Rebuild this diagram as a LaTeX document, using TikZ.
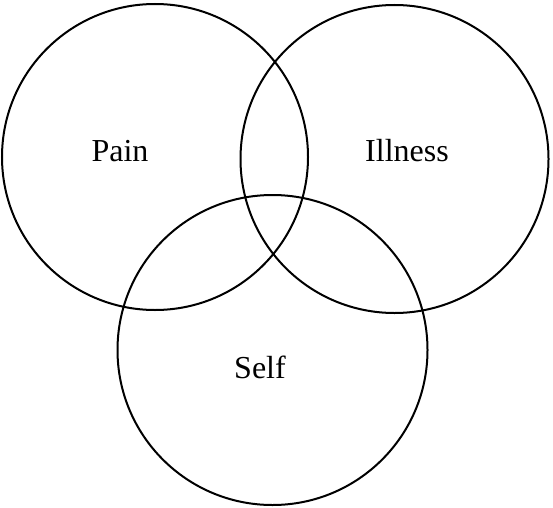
\documentclass[tikz,border=0pt]{standalone}
\usepackage{fontspec}
\setmainfont{Liberation Serif}
\begin{document}
\begin{tikzpicture}[x=1pt,y=1pt,
  ring/.style={draw=black,line width=2pt},
  lbl/.style={anchor=base,inner sep=0pt,font=\fontsize{32}{36}\selectfont}]
\useasboundingbox (0,0) rectangle (553,507);
\coordinate (cp) at (155,350);
\coordinate (ci) at (394.5,348);
\coordinate (cs) at (272.5,157);
\draw[ring] (cp) circle[radius=153];
\draw[ring] (ci) circle[radius=154];
\draw[ring] (cs) circle[radius=155];
\node[lbl] (pain) at (120,346) {Pain};
\node[lbl] (illness) at (407,346) {Illness};
\node[lbl] (self) at (260,129) {Self};
\end{tikzpicture}
\end{document}
